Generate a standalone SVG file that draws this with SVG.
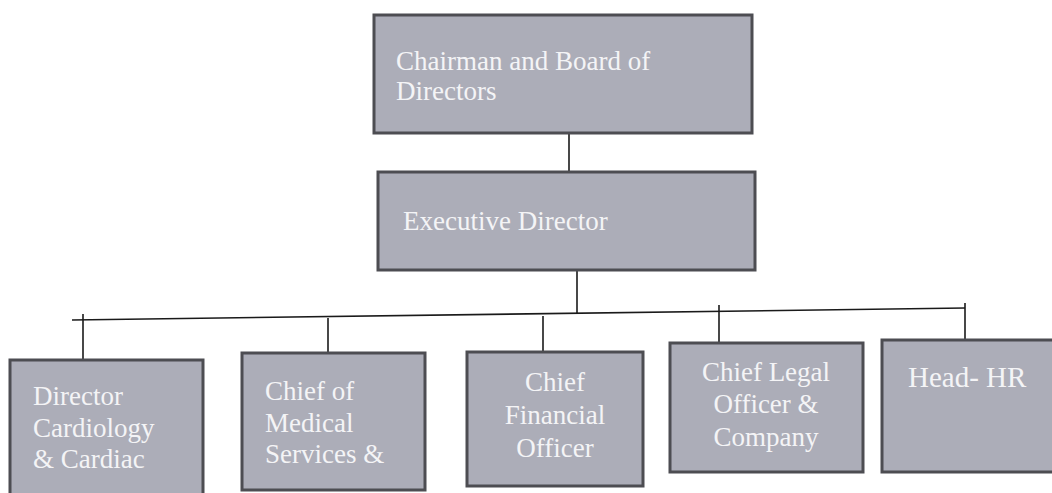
<svg xmlns="http://www.w3.org/2000/svg" width="1052" height="493" viewBox="0 0 1052 493">
<style>
.box{fill:#acadb8;stroke:#4d4d52;stroke-width:3}
.t{font-family:"Liberation Serif","Times New Roman",serif;fill:#f4f4f6;font-size:27px}
.b{font-size:27px}
.c{text-anchor:middle}
.ln{stroke:#1a1a1a;stroke-width:1.6;fill:none}
</style>
<rect width="1052" height="493" fill="#ffffff"/>
<g id="connectors">
<line class="ln" x1="569" y1="133" x2="569" y2="172"/>
<line class="ln" x1="577" y1="271" x2="577" y2="313"/>
<line class="ln" x1="72" y1="320" x2="965" y2="308"/>
<line class="ln" x1="83" y1="314" x2="83" y2="360"/>
<line class="ln" x1="328" y1="318" x2="328" y2="353"/>
<line class="ln" x1="543" y1="316" x2="543" y2="352"/>
<line class="ln" x1="719" y1="305" x2="719" y2="352"/>
<line class="ln" x1="965" y1="303" x2="965" y2="340"/>
</g>
<g id="chairman">
<rect class="box" x="374" y="15" width="378" height="118"/>
<text class="t" x="396" y="70">Chairman and Board of</text>
<text class="t" x="396" y="100">Directors</text>
</g>
<g id="executive">
<rect class="box" x="378" y="172" width="377" height="98"/>
<text class="t" x="403" y="230">Executive Director</text>
</g>
<g id="cardiology">
<rect class="box" x="10" y="360" width="193" height="136"/>
<text class="t b" x="33" y="405">Director</text>
<text class="t b" x="33" y="437">Cardiology</text>
<text class="t b" x="33" y="468">&amp; Cardiac</text>
</g>
<g id="medical">
<rect class="box" x="242" y="353" width="183" height="137"/>
<text class="t b" x="265" y="400">Chief of</text>
<text class="t b" x="265" y="432">Medical</text>
<text class="t b" x="265" y="463">Services &amp;</text>
</g>
<g id="cfo">
<rect class="box" x="467" y="352" width="176" height="134"/>
<text class="t b c" x="555" y="391">Chief</text>
<text class="t b c" x="555" y="424">Financial</text>
<text class="t b c" x="555" y="457">Officer</text>
</g>
<g id="legal">
<rect class="box" x="670" y="343" width="193" height="129"/>
<text class="t b c" x="766" y="381">Chief Legal</text>
<text class="t b c" x="766" y="413">Officer &amp;</text>
<text class="t b c" x="766" y="446">Company</text>
</g>
<g id="hr">
<rect class="box" x="882" y="340" width="172" height="132"/>
<text class="t" x="908" y="387" style="font-size:29px">Head- HR</text>
</g>
</svg>
